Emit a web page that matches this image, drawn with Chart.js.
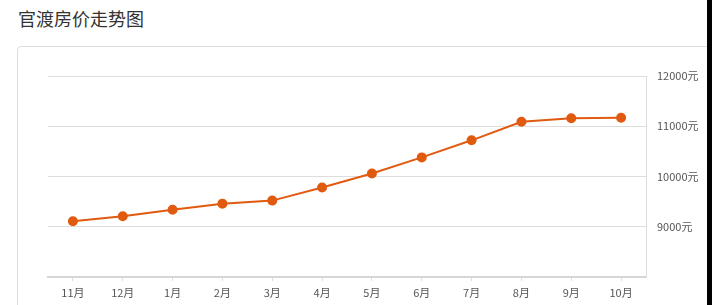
<!DOCTYPE html>
<html>
<head>
<meta charset="utf-8">
<script src="https://cdn.jsdelivr.net/npm/chart.js@4"></script>
<style>
  body { margin: 0; width: 712px; height: 305px; overflow: hidden; background: #fff; position: relative;
         font-family: "Noto Sans CJK SC", "Noto Sans", sans-serif; }
  #title { position: absolute; left: 18px; top: 5px; font-size: 18px; color: #333; }
  #card { position: absolute; left: 17px; top: 46px; width: 720px; height: 300px;
          border: 1px solid #ddd; border-radius: 4px; }
  #edge { position: absolute; right: 0; top: 0; width: 5px; height: 305px; background: #000; }
  #wrap { position: absolute; left: 0; top: 0; width: 712px; height: 305px; }
</style>
</head>
<body>
<div id="title">官渡房价走势图</div>
<div id="card"></div>
<div id="wrap"><canvas id="chart"></canvas></div>
<div id="edge"></div>
<script>
// months and average price (元/㎡)
const months = ['11月', '12月', '1月', '2月', '3月', '4月', '5月', '6月', '7月', '8月', '9月', '10月'];
const prices = [9110, 9210, 9340, 9460, 9520, 9780, 10060, 10380, 10720, 11090, 11160, 11170];
const yTicks = [8000, 9000, 10000, 11000, 12000];

const font = { family: '"Noto Sans CJK SC", "Noto Sans", sans-serif', size: 11 };

new Chart(document.getElementById('chart'), {
  type: 'line',
  data: {
    labels: months,
    datasets: [{
      data: prices,
      borderColor: '#e05a10',
      backgroundColor: '#e05a10',
      borderWidth: 2,
      pointRadius: 4,
      pointHoverRadius: 4,
      tension: 0,
      fill: false,
    }],
  },
  options: {
    responsive: true,
    maintainAspectRatio: false,
    animation: false,
    layout: { padding: { left: 48, top: 76, right: 0, bottom: 0 } },
    plugins: { legend: { display: false }, tooltip: { enabled: false } },
    scales: {
      x: {
        offset: true,
        grid: { drawOnChartArea: false, drawTicks: true, tickLength: 4, color: '#ddd' },
        border: { color: '#d6d6d6', width: 2 },
        ticks: { color: '#555', font: font, padding: 5, maxRotation: 0 },
        afterFit: scale => { scale.height = 28; },
      },
      y: {
        position: 'right',
        min: yTicks[0],
        max: yTicks[yTicks.length - 1],
        afterBuildTicks: scale => { scale.ticks = yTicks.map(v => ({ value: v })); },
        grid: { color: '#ddd', drawTicks: false },
        border: { color: '#ddd' },
        ticks: {
          color: '#555', font: font, padding: 11,
          callback: v => v === yTicks[0] ? '' : v + '元',
        },
        afterFit: scale => { scale.width = 66; },
      },
    },
  },
});
</script>
</body>
</html>
